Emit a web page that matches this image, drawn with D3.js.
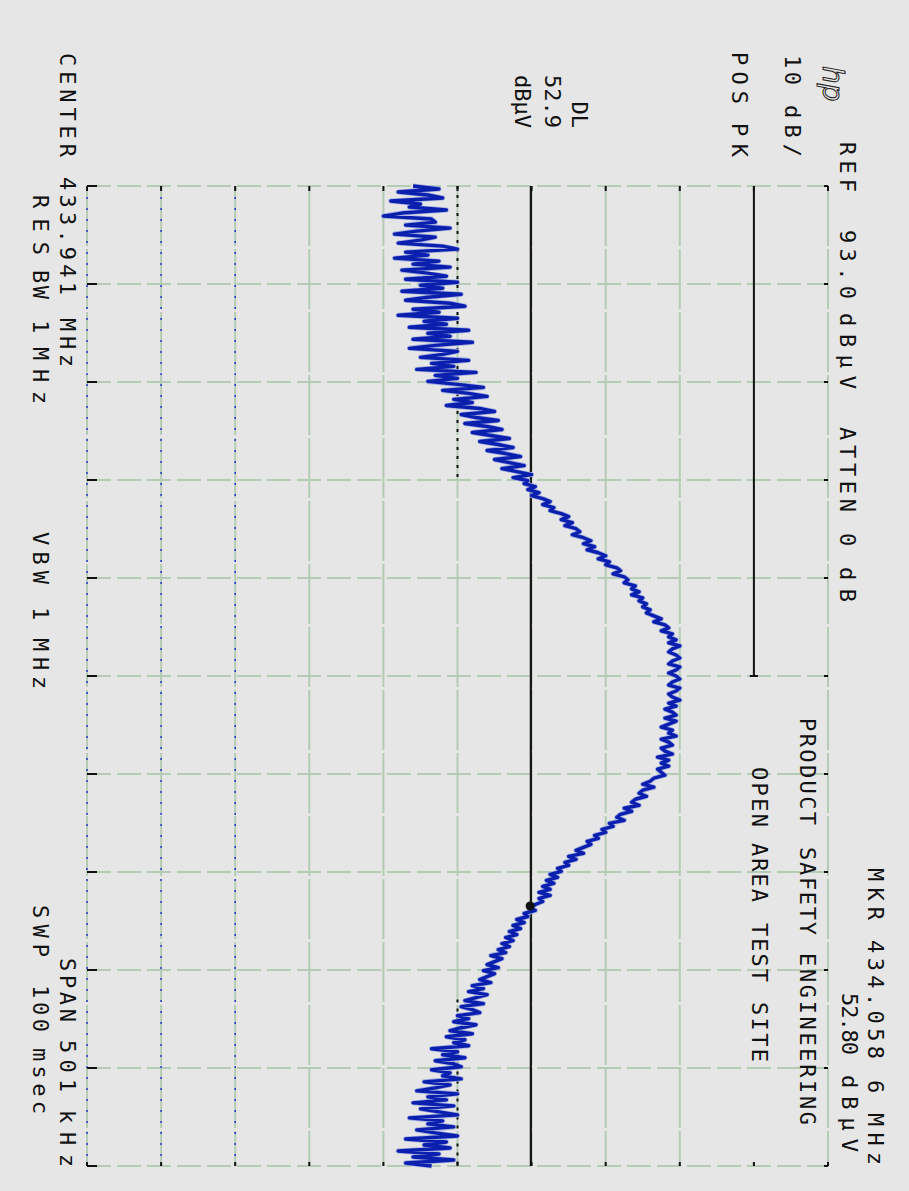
<!DOCTYPE html>
<html>
<head>
<meta charset="utf-8">
<script src="https://cdn.jsdelivr.net/npm/d3@7"></script>
<style>
  html, body { margin: 0; padding: 0; background: #e6e6e6; }
  svg { display: block; }
  .ann { font-family: "DejaVu Sans Mono", monospace; font-size: 22px; fill: #111; }
</style>
</head>
<body>
<script>
// analyzer settings
const centerMHz = 433.941;
const spanMHz = 0.501;
const refLevel = 93.0;
const dbPerDiv = 10;
const displayLine = 52.9;
const limitLevel = 83;
const markerMHz = 434.0586;
const markerLevel = 52.80;

// trace amplitude (dBuV), equally spaced points across the span
const trace = [
  37, 40.5, 35, 39, 41, 34, 38, 36.5, 41.5, 35.5, 33, 39.5, 40, 36, 42, 37.5, 34.5, 40, 38, 35, 41, 43, 36, 39, 34.5, 40.5, 37, 42, 35.5, 39, 41.5, 36, 43,
  38, 41, 35.5, 43.5, 39, 36, 42, 44, 37, 40.5, 35, 43, 38.5, 41.5, 36.5, 44.5, 39, 42, 37, 45, 40, 36.5, 43, 41, 38, 44.5, 39.5, 42.5, 37.5, 45.5, 40, 43, 39,
  43, 46.5, 41, 44.5, 47, 42.5, 45, 41.5, 46, 48, 43.5, 45.5, 48.5, 44, 47, 49, 45, 47.5, 50, 46, 48.5, 50.5, 47, 49.5, 51.5, 48, 50, 52, 49, 51, 53, 50.5, 52.5,
  52, 53.5, 52.5, 54, 53, 54.5, 55.5, 54.5, 56, 55.5, 57, 58, 57, 58.5, 57.5, 59, 59.5, 58.5, 60, 61, 60, 61.5, 60.5, 62, 63, 62, 63.5, 63, 64.5, 65, 64, 65.5, 66,
  65.5, 67, 66.5, 67.5, 66.5, 68, 67.5, 68.5, 68, 69, 68.5, 69.5, 70.5, 69.5, 71, 71.5, 70.5, 72, 71.5, 72.5, 71.5, 73, 72, 71.5, 72.5, 73, 72, 71.5, 73, 72.5, 71.5, 72.5, 73,
  72, 71.5, 73, 72.5, 71.5, 72, 73, 71.5, 72.5, 71, 72, 72.5, 71, 72.5, 71.5, 70.5, 72, 71.5, 72.5, 70.5, 71.5, 72, 70.5, 71, 72, 70, 71.5, 70.5, 71.5, 70, 70.5, 71, 69.5,
  69, 68, 69.5, 68, 67.5, 68.5, 67, 66.5, 67.5, 65.5, 66.5, 65, 64.5, 65.5, 63.5, 64, 62.5, 63, 61.5, 62, 60.5, 61, 60, 59, 60, 58, 59, 57.5, 58, 56.5, 57, 55.5, 56.5,
  55, 56, 54.5, 55.5, 54, 55.5, 54, 54.5, 53.5, 52.8, 53.5, 52, 52.5, 51, 52, 50.5, 51.5, 50, 51, 49.5, 50.5, 49, 50, 48.5, 49.5, 47.5, 49, 48, 47, 48.5, 46.5, 48, 47,
  46, 47.5, 45, 46.5, 44.5, 47, 45.5, 44, 46.5, 43.5, 45, 46, 43, 44.5, 42.5, 45.5, 43.5, 42, 45, 41.5, 44, 42.5, 44.5, 39.5, 43, 41, 44, 40, 42.5, 43.5, 39.5, 42, 41,
  43.5, 38.5, 42, 40, 37.5, 43, 39, 41.5, 37, 42.5, 38, 40.5, 43, 36.5, 41, 39, 42.5, 37.5, 40, 43, 36, 41.5, 38.5, 42, 35, 40.5, 37, 42.5, 36, 39.5
];

// annotation text
const logoText = "hp";
const refLine = "REF 93.0 dBµV ATTEN 0 dB";
const scaleLine = "10 dB/";
const detLine = "POS PK";
const dlLines = ["DL", "52.9", "dBµV"];
const centerLine = "CENTER 433.941 MHz";
const rbwLine = "RES BW 1 MHz";
const vbwLine = "VBW 1 MHz";
const spanLine = "SPAN 501 kHz";
const sweepLine = "SWP 100 msec";
const mkrLine = "MKR 434.058 6 MHz";
const mkrLevelLine = "52.80 dBµV";
const titleLines = ["PRODUCT SAFETY ENGINEERING", "OPEN AREA TEST SITE"];

const pageW = 909, pageH = 1191;
// the plot is drawn in its own frame and turned a quarter turn onto the page
const gratLeft = 186, gratRight = 1166, gratTop = 81, gratBottom = 822;

const svg = d3.select("body").append("svg")
    .attr("width", pageW)
    .attr("height", pageH);

svg.append("rect")
    .attr("width", pageW)
    .attr("height", pageH)
    .attr("fill", "#e6e6e6");

const g = svg.append("g")
    .attr("transform", `translate(${pageW},0) rotate(90)`);

const startF = centerMHz - spanMHz / 2,
    stopF = centerMHz + spanMHz / 2,
    bottomLevel = refLevel - dbPerDiv * 10;

const x = d3.scaleLinear()
    .domain([startF, stopF])
    .range([gratLeft, gratRight]);

const y = d3.scaleLinear()
    .domain([bottomLevel, refLevel])
    .range([gratBottom, gratTop]);

const idx = d3.scaleLinear()
    .domain([0, trace.length - 1])
    .range([startF, stopF]);

const freqLines = d3.range(11).map(i => startF + i * spanMHz / 10);
const levelLines = d3.range(11).map(i => bottomLevel + i * dbPerDiv);

// graticule
const grid = g.append("g").attr("class", "grid");

grid.selectAll(".vline")
    .data(freqLines)
    .join("line")
    .attr("class", "vline")
    .attr("x1", d => x(d)).attr("x2", d => x(d))
    .attr("y1", y(bottomLevel)).attr("y2", y(refLevel))
    .attr("stroke", "#b4cbb4")
    .attr("stroke-width", 2)
    .attr("stroke-dasharray", "24,6");

// the top division line sits under the annotation on the right, only the limit shows there
grid.selectAll(".hline")
    .data(levelLines.filter(d => d !== limitLevel))
    .join("line")
    .attr("class", "hline")
    .attr("x1", x(startF)).attr("x2", x(stopF))
    .attr("y1", d => y(d)).attr("y2", d => y(d))
    .attr("stroke", "#b4cbb4")
    .attr("stroke-width", 2)
    .attr("stroke-dasharray", "60,3");

// blue pen dots along the low lines
grid.selectAll(".bdots")
    .data(levelLines.slice(0, 3))
    .join("line")
    .attr("class", "bdots")
    .attr("x1", x(startF)).attr("x2", x(stopF))
    .attr("y1", d => y(d)).attr("y2", d => y(d))
    .attr("stroke", "#2a3fd0")
    .attr("stroke-width", 1.6)
    .attr("stroke-dasharray", "2,9");

// black edge ticks
const ticks = g.append("g").attr("stroke", "#111").attr("stroke-width", 2);
freqLines.forEach(f => {
    ticks.append("line").attr("x1", x(f)).attr("x2", x(f))
        .attr("y1", y(bottomLevel)).attr("y2", y(bottomLevel) - 10);
    ticks.append("line").attr("x1", x(f)).attr("x2", x(f))
        .attr("y1", y(refLevel)).attr("y2", y(refLevel) + 4);
});
levelLines.forEach(l => {
    ticks.append("line").attr("x1", x(startF)).attr("x2", x(startF) + 5)
        .attr("y1", y(l)).attr("y2", y(l));
    ticks.append("line").attr("x1", x(stopF)).attr("x2", x(stopF) - 4)
        .attr("y1", y(l)).attr("y2", y(l));
});

// dark dotted marks on the 43 dB line at both ends of the span
g.selectAll(".dark")
    .data([[startF, startF + spanMHz * 0.3], [startF + spanMHz * 0.83, stopF]])
    .join("line")
    .attr("class", "dark")
    .attr("x1", d => x(d[0])).attr("x2", d => x(d[1]))
    .attr("y1", y(43)).attr("y2", y(43))
    .attr("stroke", "#111")
    .attr("stroke-width", 2)
    .attr("stroke-dasharray", "3,6");

// limit line, start to center
g.append("line")
    .attr("x1", x(startF)).attr("x2", x(centerMHz))
    .attr("y1", y(limitLevel)).attr("y2", y(limitLevel))
    .attr("stroke", "#111")
    .attr("stroke-width", 2);
g.append("line")
    .attr("x1", x(centerMHz)).attr("x2", x(centerMHz))
    .attr("y1", y(limitLevel) - 4).attr("y2", y(limitLevel) + 4)
    .attr("stroke", "#111").attr("stroke-width", 2);

// display line
g.append("line")
    .attr("x1", x(startF)).attr("x2", x(stopF))
    .attr("y1", y(displayLine)).attr("y2", y(displayLine))
    .attr("stroke", "#111")
    .attr("stroke-width", 2.2);

// trace
const line = d3.line()
    .x((d, i) => x(idx(i)))
    .y(d => y(d));

g.append("path")
    .datum(trace)
    .attr("d", line)
    .attr("fill", "none")
    .attr("stroke", "#a3aede")
    .attr("stroke-width", 5)
    .attr("stroke-linejoin", "round");

g.append("path")
    .datum(trace)
    .attr("d", line)
    .attr("fill", "none")
    .attr("stroke", "#0a1fae")
    .attr("stroke-width", 3.4)
    .attr("stroke-linejoin", "round");

// marker
g.append("circle")
    .attr("cx", x(markerMHz))
    .attr("cy", y(markerLevel))
    .attr("r", 4.5)
    .attr("fill", "#111");

// annotation, each word placed where the plotter put it
const rows = [
    [refLine, 69, [[142, 190], [230, 297], [313, 387], [427, 510], [533, 547], [567, 600]]],
    [scaleLine, 124, [[55, 83], [105, 155]]],
    [detLine, 177, [[52, 102], [123, 155]]],
    [centerLine, 849, [[53, 155], [177, 293], [318, 365]]],
    [rbwLine, 876, [[195, 253], [270, 297], [320, 330], [347, 402]]],
    [vbwLine, 876, [[532, 582], [607, 615], [638, 687]]],
    [spanLine, 849, [[958, 1020], [1040, 1090], [1110, 1165]]],
    [sweepLine, 876, [[905, 955], [985, 1030], [1048, 1112]]],
    [mkrLine, 41, [[868, 918], [940, 1057], [1080, 1097], [1113, 1163]]],
    [mkrLevelLine, 67, [[993, 1053], [1075, 1150]]],
    [titleLines[0], 109, [[718, 823], [847, 933], [953, 1123]]],
    [titleLines[1], 157, [[767, 825], [843, 900], [923, 980], [1002, 1060]]]
];

const ann = g.append("g").attr("class", "annotation");
rows.forEach(([str, base, spans]) => {
    str.split(" ").forEach((word, k) => {
        const s = spans[k];
        const t = ann.append("text")
            .attr("class", "ann")
            .attr("x", s[0])
            .attr("y", base)
            .text(word);
        if (word.length > 1) {
            t.attr("textLength", s[1] - s[0] + 2)
                .attr("lengthAdjust", "spacing");
        }
    });
});

// display line readout, right aligned above the graticule
ann.selectAll(".dl")
    .data(dlLines)
    .join("text")
    .attr("class", "ann dl")
    .attr("x", 128)
    .attr("y", (d, i) => [337, 364, 394][i])
    .attr("text-anchor", "end")
    .text(d => d);

ann.append("text")
    .attr("x", 66)
    .attr("y", 86)
    .attr("font-family", "DejaVu Sans")
    .attr("font-style", "italic")
    .attr("font-size", 28)
    .attr("fill", "none")
    .attr("stroke", "#222")
    .attr("stroke-width", 1)
    .text(logoText);
</script>
</body>
</html>
